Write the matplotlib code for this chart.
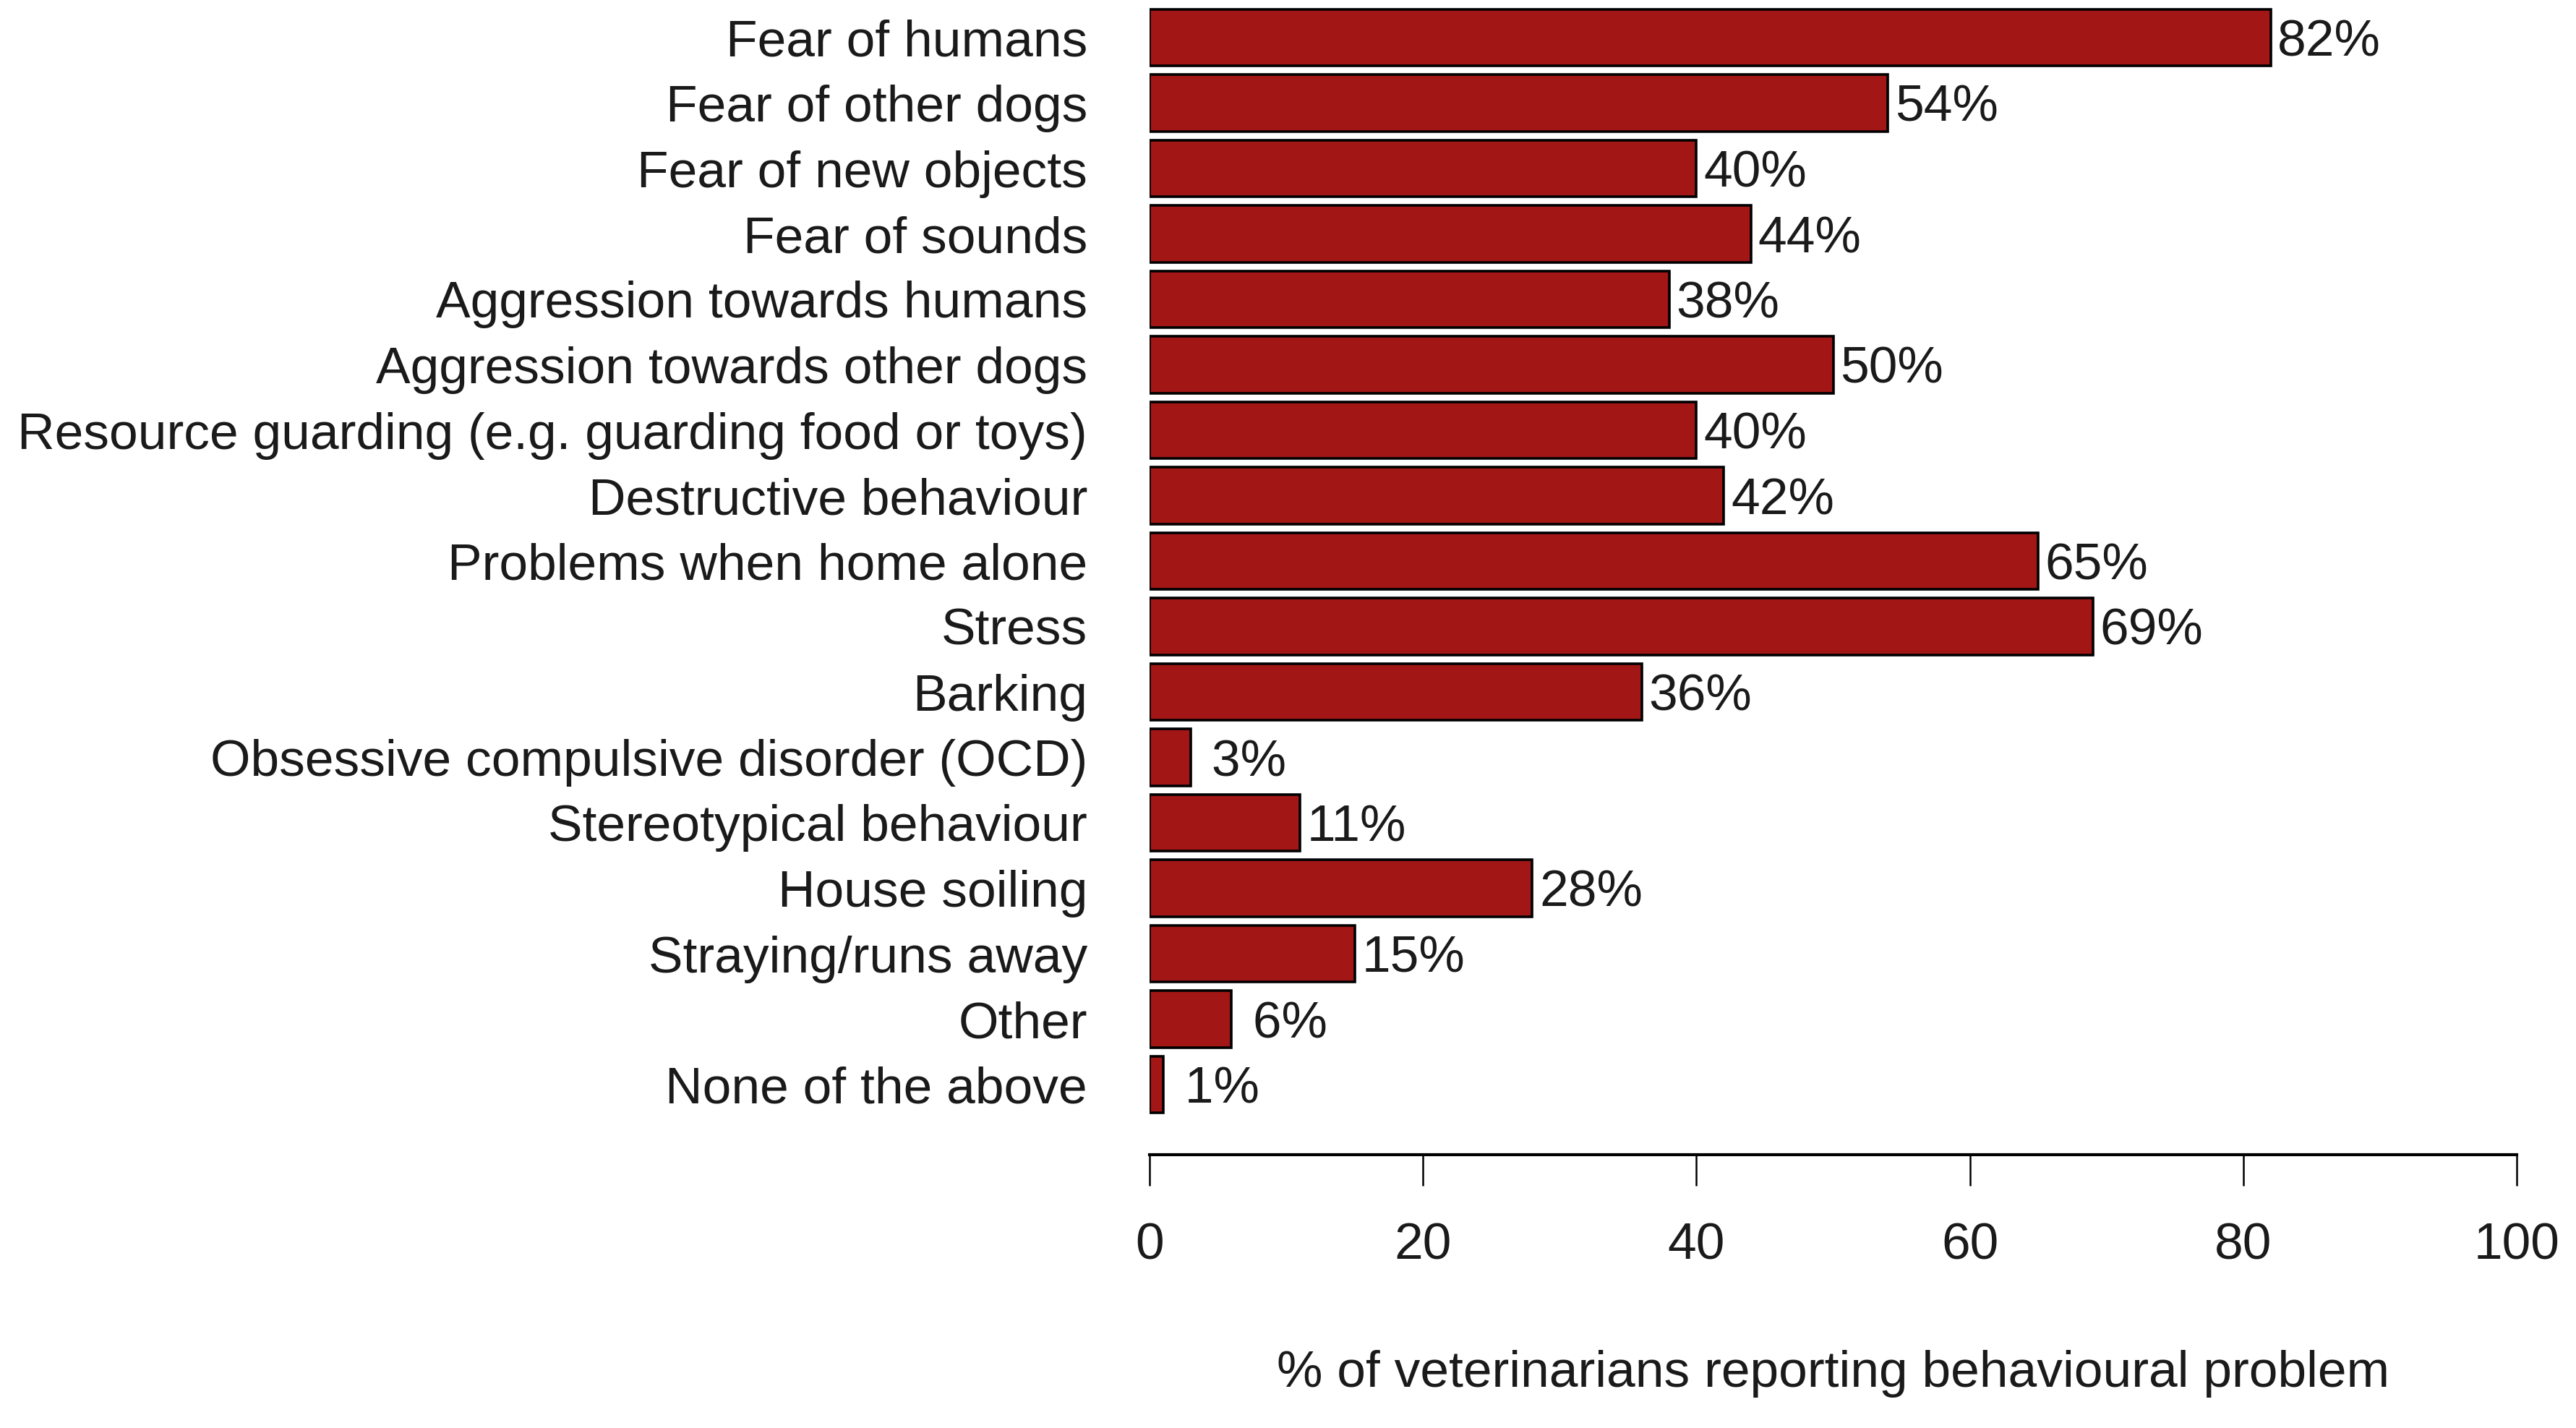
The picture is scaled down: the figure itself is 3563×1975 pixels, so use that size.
import matplotlib
matplotlib.use("Agg")
import matplotlib.pyplot as plt

categories = [
    "Fear of humans",
    "Fear of other dogs",
    "Fear of new objects",
    "Fear of sounds",
    "Aggression towards humans",
    "Aggression towards other dogs",
    "Resource guarding (e.g. guarding food or toys)",
    "Destructive behaviour",
    "Problems when home alone",
    "Stress",
    "Barking",
    "Obsessive compulsive disorder (OCD)",
    "Stereotypical behaviour",
    "House soiling",
    "Straying/runs away",
    "Other",
    "None of the above",
]
values = [82, 54, 40, 44, 38, 50, 40, 42, 65, 69, 36, 3, 11, 28, 15, 6, 1]
xticks = [0, 20, 40, 60, 80, 100]
xlabel = "% of veterinarians reporting behavioural problem"

plt.rcParams['font.family'] = ['Liberation Sans', 'DejaVu Sans']
FS = 51.4
TXT = "#1a1a1a"

W, H = 3563, 1975
fig = plt.figure(figsize=(W / 100, H / 100), dpi=100)
left = 1590 / W
right = 3481 / W
top_px = 52 - 45.25
bot_px = 1597
ax = fig.add_axes([left, 1 - bot_px / H, right - left, (bot_px - top_px) / H])

pos = list(range(len(categories)))
ax.barh(pos, values, height=0.867, color="#A31616", edgecolor="black",
        linewidth=2.6, zorder=3)
ax.set_xlim(0, 100)
ax.set_ylim((bot_px - 52) / 90.5, -0.5)

for p, v in zip(pos, values):
    ax.annotate(f"{v:2d}%", (v, p), xytext=(7, 0), textcoords="offset points",
                ha="left", va="center_baseline", fontsize=FS, color=TXT,
                clip_on=False)

ax.set_yticks(pos)
ax.set_yticklabels(categories, fontsize=FS, color=TXT)
ax.tick_params(axis="y", length=0, pad=62)

ax.set_xticks(xticks)
ax.set_xticklabels([str(t) for t in xticks], fontsize=FS, color=TXT)
ax.tick_params(axis="x", length=31, width=1.8, pad=36, direction="out", color="black")

for s in ["top", "right", "left"]:
    ax.spines[s].set_visible(False)
ax.spines["bottom"].set_linewidth(3)
ax.spines["bottom"].set_color("black")

ax.set_xlabel(xlabel, fontsize=FS, color=TXT, labelpad=80)

fig.savefig("out.png", dpi=100, facecolor="white")
